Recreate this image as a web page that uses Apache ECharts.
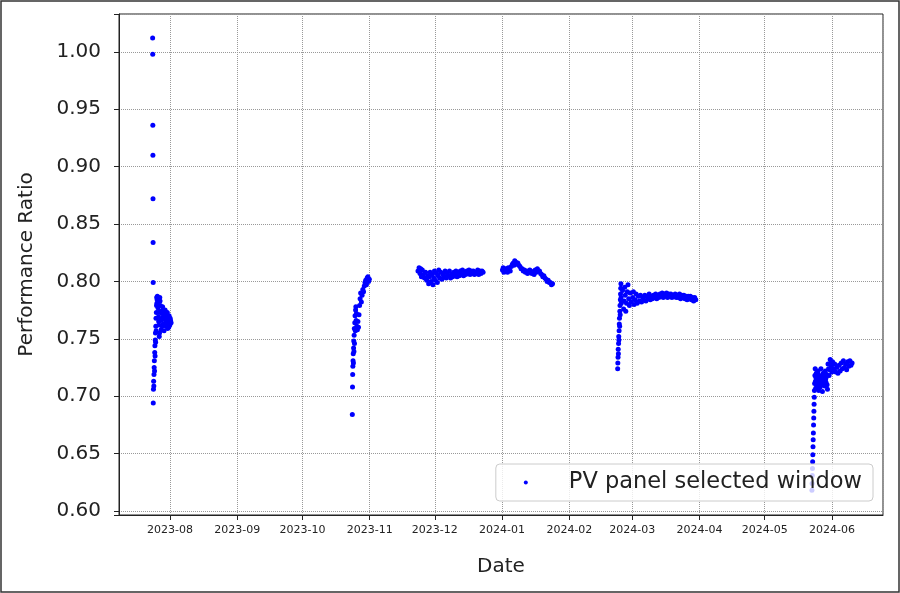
<!DOCTYPE html>
<html><head><meta charset="utf-8">
<script src="https://cdn.jsdelivr.net/npm/echarts@6/dist/echarts.min.js"></script>
<style>html,body{margin:0;padding:0;background:#fff}#c{width:900px;height:593px}</style>
</head><body><div id="c"></div>
<script>
// ---- data (date, performance ratio) ----
const julAug2023 = [
['2023-07-24 00',1.012],['2023-07-24 01',0.998],['2023-07-24 02',0.936],['2023-07-24 03',0.910],['2023-07-24 04',0.872],['2023-07-24 05',0.834],['2023-07-24 06',0.799],['2023-07-24 07',0.694],
['2023-07-24 09',0.706],['2023-07-24 11',0.713],['2023-07-24 13',0.709],['2023-07-24 15',0.719],['2023-07-24 17',0.725],['2023-07-24 19',0.731],['2023-07-24 21',0.722],['2023-07-24 23',0.738],
['2023-07-25 01',0.744],['2023-07-25 03',0.735],['2023-07-25 05',0.749],['2023-07-25 07',0.755],['2023-07-25 09',0.747],['2023-07-25 11',0.761],['2023-07-25 13',0.768],['2023-07-25 15',0.757],['2023-07-25 17',0.773],['2023-07-25 19',0.779],['2023-07-25 21',0.786],['2023-07-25 23',0.781],
['2023-07-26 02',0.784],['2023-07-26 04',0.787],['2023-07-26 07',0.780],['2023-07-26 10',0.777],['2023-07-26 13',0.773],['2023-07-26 16',0.769],['2023-07-26 19',0.765],['2023-07-26 22',0.762],
['2023-07-27 01',0.752],['2023-07-27 04',0.755],['2023-07-27 07',0.786],['2023-07-27 10',0.783],['2023-07-27 13',0.779],['2023-07-27 16',0.774],['2023-07-27 19',0.766],['2023-07-27 22',0.758],
['2023-07-28 02',0.772],['2023-07-28 06',0.768],['2023-07-28 10',0.761],['2023-07-28 14',0.778],['2023-07-28 18',0.775],['2023-07-28 22',0.763],
['2023-07-29 02',0.769],['2023-07-29 06',0.757],['2023-07-29 10',0.762],['2023-07-29 14',0.772],['2023-07-29 18',0.775],['2023-07-29 22',0.766],
['2023-07-30 02',0.771],['2023-07-30 06',0.761],['2023-07-30 10',0.765],['2023-07-30 14',0.769],['2023-07-30 18',0.773],['2023-07-30 22',0.759],
['2023-07-31 02',0.767],['2023-07-31 06',0.764],['2023-07-31 10',0.760],['2023-07-31 14',0.770],['2023-07-31 18',0.766],['2023-07-31 22',0.762],
['2023-08-01 02',0.768],['2023-08-01 06',0.766],['2023-08-01 12',0.764]
];
const octNov2023 = [
['2023-10-24 00',0.684],['2023-10-24 02',0.708],['2023-10-24 04',0.719],['2023-10-24 06',0.726],['2023-10-24 08',0.731],['2023-10-24 10',0.737],['2023-10-24 12',0.729],['2023-10-24 14',0.742],['2023-10-24 16',0.748],['2023-10-24 18',0.739],['2023-10-24 20',0.753],['2023-10-24 22',0.759],
['2023-10-25 00',0.746],['2023-10-25 03',0.764],['2023-10-25 06',0.770],['2023-10-25 09',0.757],['2023-10-25 12',0.775],['2023-10-25 15',0.778],['2023-10-25 18',0.766],['2023-10-25 21',0.772],
['2023-10-26 02',0.761],['2023-10-26 08',0.758],['2023-10-26 14',0.765],['2023-10-26 20',0.760],
['2023-10-27 02',0.771],['2023-10-27 08',0.779],['2023-10-27 14',0.785],['2023-10-27 20',0.790],
['2023-10-28 04',0.782],['2023-10-28 12',0.788],['2023-10-28 20',0.793],
['2023-10-29 04',0.791],['2023-10-29 12',0.796],['2023-10-29 20',0.799],
['2023-10-30 04',0.801],['2023-10-30 12',0.797],['2023-10-30 20',0.803],
['2023-10-31 04',0.804],['2023-10-31 12',0.800],['2023-10-31 20',0.802]
];
const nov2023Dec = [
['2023-11-23 06',0.809],['2023-11-23 18',0.812],['2023-11-24 04',0.807],['2023-11-24 12',0.811],['2023-11-24 20',0.804],
['2023-11-25 06',0.810],['2023-11-25 18',0.806],['2023-11-26 06',0.803],['2023-11-26 18',0.808],['2023-11-27 06',0.801],['2023-11-27 18',0.805],
['2023-11-28 04',0.798],['2023-11-28 12',0.804],['2023-11-28 20',0.808],['2023-11-29 06',0.800],['2023-11-29 18',0.806],
['2023-11-30 04',0.797],['2023-11-30 12',0.803],['2023-11-30 20',0.809],['2023-12-01 06',0.801],['2023-12-01 18',0.807],
['2023-12-02 04',0.799],['2023-12-02 12',0.805],['2023-12-02 20',0.810],['2023-12-03 06',0.803],['2023-12-03 18',0.808],
['2023-12-04 06',0.802],['2023-12-04 18',0.806],['2023-12-05 06',0.804],['2023-12-05 18',0.809],['2023-12-06 06',0.803],['2023-12-06 18',0.807],
['2023-12-07 06',0.805],['2023-12-07 18',0.809],['2023-12-08 06',0.803],['2023-12-08 18',0.806],['2023-12-09 06',0.804],['2023-12-09 18',0.808],
['2023-12-10 06',0.806],['2023-12-10 18',0.809],['2023-12-11 06',0.804],['2023-12-11 18',0.807],['2023-12-12 06',0.805],['2023-12-12 18',0.809],
['2023-12-13 06',0.806],['2023-12-13 18',0.810],['2023-12-14 06',0.805],['2023-12-14 18',0.808],['2023-12-15 06',0.806],['2023-12-15 18',0.809],
['2023-12-16 06',0.807],['2023-12-16 18',0.810],['2023-12-17 06',0.806],['2023-12-17 18',0.809],['2023-12-18 06',0.807],['2023-12-18 18',0.809],
['2023-12-19 06',0.806],['2023-12-19 18',0.808],['2023-12-20 06',0.807],['2023-12-20 18',0.810],['2023-12-21 06',0.806],['2023-12-21 18',0.809],
['2023-12-22 06',0.807],['2023-12-22 18',0.809],['2023-12-23 06',0.808]
];
const jan2024 = [
['2024-01-01 04',0.810],['2024-01-01 12',0.812],['2024-01-01 20',0.808],['2024-01-02 06',0.809],['2024-01-02 18',0.811],
['2024-01-03 04',0.810],['2024-01-03 12',0.808],['2024-01-03 20',0.812],['2024-01-04 06',0.811],['2024-01-04 18',0.809],
['2024-01-05 06',0.813],['2024-01-05 18',0.815],['2024-01-06 04',0.816],['2024-01-06 12',0.814],['2024-01-06 20',0.818],
['2024-01-07 06',0.817],['2024-01-07 18',0.815],['2024-01-08 06',0.816],['2024-01-08 18',0.814],['2024-01-09 06',0.813],['2024-01-09 18',0.811],
['2024-01-10 06',0.811],['2024-01-10 18',0.809],['2024-01-11 06',0.810],['2024-01-11 18',0.808],['2024-01-12 06',0.809],['2024-01-12 18',0.807],
['2024-01-13 06',0.808],['2024-01-13 18',0.810],['2024-01-14 06',0.809],['2024-01-14 18',0.807],['2024-01-15 06',0.808],['2024-01-15 18',0.806],
['2024-01-16 06',0.810],['2024-01-16 18',0.808],['2024-01-17 06',0.811],['2024-01-17 18',0.809],['2024-01-18 06',0.809],['2024-01-18 18',0.807],
['2024-01-19 06',0.806],['2024-01-19 18',0.804],['2024-01-20 06',0.805],['2024-01-20 18',0.803],['2024-01-21 06',0.802],['2024-01-21 18',0.800],
['2024-01-22 06',0.801],['2024-01-22 18',0.799],['2024-01-23 06',0.799],['2024-01-23 18',0.797],['2024-01-24 06',0.798]
];
const febMar2024 = [
['2024-02-23 06',0.724],['2024-02-23 08',0.729],['2024-02-23 10',0.734],['2024-02-23 12',0.741],['2024-02-23 14',0.737],['2024-02-23 16',0.746],['2024-02-23 18',0.752],['2024-02-23 20',0.749],['2024-02-23 22',0.757],
['2024-02-24 00',0.763],['2024-02-24 02',0.768],['2024-02-24 04',0.761],['2024-02-24 06',0.774],['2024-02-24 08',0.779],['2024-02-24 10',0.771],['2024-02-24 12',0.784],['2024-02-24 14',0.789],['2024-02-24 16',0.794],['2024-02-24 18',0.798],['2024-02-24 20',0.786],['2024-02-24 22',0.781],
['2024-02-25 12',0.792],['2024-02-26 00',0.776],['2024-02-26 06',0.783],['2024-02-26 12',0.795],['2024-02-26 18',0.788],['2024-02-27 00',0.774],['2024-02-27 08',0.781],['2024-02-27 16',0.791],
['2024-02-28 00',0.797],['2024-02-28 08',0.785],['2024-02-28 16',0.779],['2024-02-29 00',0.790],['2024-02-29 12',0.782],
['2024-03-01 04',0.786],['2024-03-01 12',0.791],['2024-03-01 20',0.780],['2024-03-02 06',0.784],['2024-03-02 18',0.789],['2024-03-03 06',0.781],['2024-03-03 18',0.787],
['2024-03-04 06',0.783],['2024-03-04 18',0.788],['2024-03-05 06',0.782],['2024-03-05 18',0.786],['2024-03-06 06',0.784],['2024-03-06 18',0.788],
['2024-03-07 06',0.783],['2024-03-07 18',0.787],['2024-03-08 06',0.785],['2024-03-08 18',0.789],['2024-03-09 06',0.784],['2024-03-09 18',0.787],
['2024-03-10 06',0.785],['2024-03-10 18',0.788],['2024-03-11 06',0.786],['2024-03-11 18',0.789],['2024-03-12 06',0.785],['2024-03-12 18',0.788],
['2024-03-13 06',0.786],['2024-03-13 18',0.789],['2024-03-14 06',0.787],['2024-03-14 18',0.790],['2024-03-15 06',0.786],['2024-03-15 18',0.789],
['2024-03-16 06',0.787],['2024-03-16 18',0.790],['2024-03-17 06',0.786],['2024-03-17 18',0.789],['2024-03-18 06',0.787],['2024-03-18 18',0.789],
['2024-03-19 06',0.786],['2024-03-19 18',0.788],['2024-03-20 06',0.787],['2024-03-20 18',0.789],['2024-03-21 06',0.786],['2024-03-21 18',0.788],
['2024-03-22 06',0.786],['2024-03-22 18',0.789],['2024-03-23 06',0.785],['2024-03-23 18',0.788],['2024-03-24 06',0.786],['2024-03-24 18',0.788],
['2024-03-25 06',0.785],['2024-03-25 18',0.787],['2024-03-26 06',0.784],['2024-03-26 18',0.787],['2024-03-27 06',0.785],['2024-03-27 18',0.787],
['2024-03-28 06',0.784],['2024-03-28 18',0.786],['2024-03-29 06',0.783],['2024-03-29 18',0.786],['2024-03-30 06',0.784]
];
const mayJun2024 = [
['2024-05-22 18',0.618],['2024-05-22 20',0.624],['2024-05-22 22',0.631],['2024-05-23 00',0.637],['2024-05-23 02',0.643],['2024-05-23 04',0.649],['2024-05-23 06',0.656],['2024-05-23 08',0.662],
['2024-05-23 10',0.668],['2024-05-23 12',0.675],['2024-05-23 14',0.681],['2024-05-23 16',0.687],['2024-05-23 18',0.693],['2024-05-23 20',0.699],['2024-05-23 22',0.705],
['2024-05-24 00',0.711],['2024-05-24 03',0.718],['2024-05-24 06',0.724],['2024-05-24 09',0.713],['2024-05-24 12',0.707],['2024-05-24 15',0.716],['2024-05-24 18',0.720],['2024-05-24 21',0.710],
['2024-05-25 02',0.715],['2024-05-25 06',0.712],['2024-05-25 10',0.719],['2024-05-25 14',0.722],['2024-05-25 18',0.709],['2024-05-25 22',0.705],
['2024-05-26 02',0.713],['2024-05-26 06',0.718],['2024-05-26 10',0.711],['2024-05-26 14',0.708],['2024-05-26 18',0.716],['2024-05-26 22',0.724],
['2024-05-27 02',0.717],['2024-05-27 06',0.714],['2024-05-27 10',0.710],['2024-05-27 14',0.704],['2024-05-27 18',0.713],['2024-05-27 22',0.720],
['2024-05-28 02',0.711],['2024-05-28 06',0.716],['2024-05-28 10',0.719],['2024-05-28 14',0.709],['2024-05-28 18',0.714],['2024-05-28 22',0.722],
['2024-05-29 02',0.715],['2024-05-29 06',0.712],['2024-05-29 10',0.717],['2024-05-29 14',0.719],['2024-05-29 18',0.710],['2024-05-29 22',0.706],
['2024-05-30 04',0.728],['2024-05-30 10',0.724],['2024-05-30 16',0.718],['2024-05-30 22',0.723],
['2024-05-31 04',0.732],['2024-05-31 10',0.729],['2024-05-31 16',0.726],['2024-05-31 22',0.721],['2024-06-01 06',0.730],['2024-06-01 18',0.724],
['2024-06-02 06',0.728],['2024-06-02 18',0.721],['2024-06-03 06',0.725],['2024-06-03 18',0.720],['2024-06-04 06',0.727],['2024-06-04 18',0.722],
['2024-06-05 06',0.729],['2024-06-05 18',0.724],['2024-06-06 06',0.731],['2024-06-06 18',0.725],['2024-06-07 06',0.728],['2024-06-07 18',0.723],
['2024-06-08 06',0.730],['2024-06-08 18',0.726],['2024-06-09 06',0.731],['2024-06-09 18',0.727],['2024-06-10 06',0.729]
];
const seriesName = 'PV panel selected window';
const xMin = '2023-07-08 12';
const xMax = '2024-06-24 12';
const yMin = 0.5965;
const yMax = 1.033;

const allPoints = [].concat(julAug2023, octNov2023, nov2023Dec, jan2024, febMar2024, mayJun2024);
const FONT = 'DejaVu Sans';
const chart = echarts.init(document.getElementById('c'), null, {renderer: 'canvas'});
chart.setOption({
  animation: false,
  backgroundColor: '#fff',
  textStyle: {fontFamily: FONT},
  grid: {left: 119, right: 17, top: 14, bottom: 78, show: true, borderColor: '#222', borderWidth: 1, backgroundColor: 'transparent'},
  xAxis: {
    type: 'time', min: xMin, max: xMax,
    minInterval: 28 * 86400000, maxInterval: 31 * 86400000,
    name: 'Date', nameLocation: 'middle', nameGap: 42,
    nameTextStyle: {fontSize: 20, color: '#222', fontFamily: FONT},
    axisLine: {show: true, lineStyle: {color: '#222', width: 1}},
    axisTick: {show: true, inside: false, length: 5, lineStyle: {color: '#222'}},
    axisLabel: {
      fontSize: 11, color: '#222', margin: 10, fontFamily: FONT, hideOverlap: false,
      formatter: function (v) {
        const d = new Date(v);
        if (d.getDate() !== 1 || d.getHours() !== 0) return '';
        const m = d.getMonth() + 1;
        return d.getFullYear() + '-' + (m < 10 ? '0' + m : m);
      }
    },
    splitLine: {show: true, lineStyle: {color: '#999', type: 'dotted', width: 1}}
  },
  yAxis: {
    type: 'value', min: yMin, max: yMax, splitNumber: 9,
    name: 'Performance Ratio', nameLocation: 'middle', nameGap: 82,
    nameTextStyle: {fontSize: 20, color: '#222', fontFamily: FONT},
    axisLine: {show: true, lineStyle: {color: '#222', width: 1}},
    axisTick: {show: true, inside: false, length: 5, lineStyle: {color: '#222'}},
    axisLabel: {
      fontSize: 20, color: '#222', margin: 18, fontFamily: FONT,
      formatter: function (v) {
        const r = Math.round(v * 100);
        if (Math.abs(v * 100 - r) > 1e-6 || r % 5 !== 0) return '';
        return v.toFixed(2);
      }
    },
    splitLine: {show: true, lineStyle: {color: '#999', type: 'dotted', width: 1}}
  },
  legend: {
    data: [{name: seriesName, icon: 'circle'}],
    right: 27, bottom: 92,
    backgroundColor: 'rgba(255,255,255,0.8)', borderColor: '#ccc', borderWidth: 1, borderRadius: 4,
    padding: [7, 11, 7, 28],
    itemWidth: 4, itemHeight: 4,
    textStyle: {fontSize: 22.5, color: '#222', fontFamily: FONT, padding: [0, 0, 0, 36]}
  },
  graphic: [{type: 'rect', silent: true, z: 100,
    shape: {x: 1, y: 1, width: 898, height: 591},
    style: {fill: 'none', stroke: '#333', lineWidth: 1.5}}],
  series: [{
    name: seriesName, type: 'scatter', data: allPoints,
    symbol: 'circle', symbolSize: 5,
    itemStyle: {color: '#0000ff', opacity: 1}
  }]
});
</script></body></html>
